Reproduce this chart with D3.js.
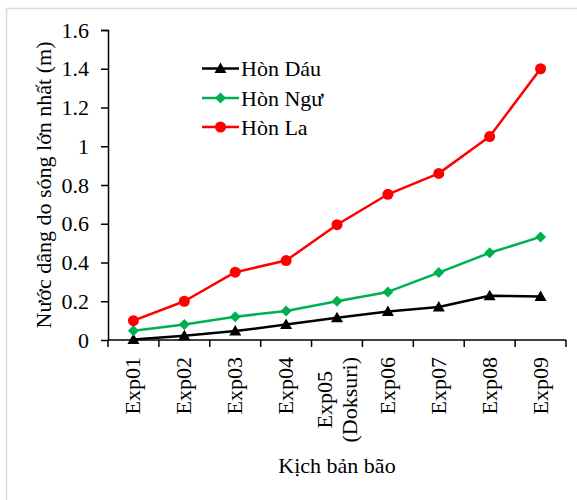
<!DOCTYPE html>
<html><head><meta charset="utf-8">
<script src="https://cdn.jsdelivr.net/npm/d3@7"></script>
<style>body{margin:0;background:#fff}svg{display:block}</style>
</head><body>
<script>
const categories = ["Exp01","Exp02","Exp03","Exp04","Exp05\n(Doksuri)","Exp06","Exp07","Exp08","Exp09"];
const honDau = [0.003,0.022,0.046,0.08,0.115,0.147,0.17,0.228,0.225];
const honNgu = [0.048,0.08,0.12,0.15,0.2,0.248,0.348,0.45,0.532];
const honLa  = [0.1,0.2,0.35,0.41,0.595,0.752,0.86,1.05,1.4];
const yTicks = [0,0.2,0.4,0.6,0.8,1,1.2,1.4,1.6];
const seriesNames = ["Hòn Dáu","Hòn Ngư","Hòn La"];
const colors = ["#000000","#00b050","#ff0000"];
const markers = ["triangle","diamond","circle"];
const yTitle = "Nước dâng do sóng lớn nhất (m)";
const xTitle = "Kịch bản bão";

const FONT='"Liberation Serif","Times New Roman",serif';
const W=577,H=500;
const svg=d3.select("body").append("svg").attr("width",W).attr("height",H)
  .style("font-family",FONT);
svg.append("rect").attr("x",6.5).attr("y",8.5).attr("width",700).attr("height",700)
  .attr("fill","none").attr("stroke","#d9d9d9").attr("stroke-width",1.5);

const x=d3.scaleBand().domain(categories).range([108,566]).padding(0);
const y=d3.scaleLinear().domain([0,1.6]).range([340,30]);
const fs=22;
function styleText(sel){ return sel.style("font-family",FONT).style("font-size",fs+"px").attr("fill","#000"); }

// y axis
const gy=svg.append("g").attr("transform","translate(108,0)")
  .call(d3.axisLeft(y).tickValues(yTicks).tickSize(7).tickPadding(12).tickFormat(d=>String(+d.toFixed(1))));
gy.attr("font-family",null).attr("font-size",null);
gy.select(".domain").attr("stroke","#000").attr("stroke-width",1.5).attr("d","M-7,30.5H0.5V340.5");
gy.selectAll(".tick line").attr("stroke","#000").attr("stroke-width",1.5);
styleText(gy.selectAll("text"));

// x axis
const gx=svg.append("g").attr("transform","translate(0,340)");
gx.append("line").attr("x1",108).attr("x2",566).attr("y1",0).attr("y2",0).attr("stroke","#000").attr("stroke-width",1.5);
const edges=categories.map(c=>x(c)).concat([x.range()[1]]);
gx.selectAll("line.t").data(edges).join("line").attr("class","t")
  .attr("x1",d=>d).attr("x2",d=>d).attr("y1",0).attr("y2",7).attr("stroke","#000").attr("stroke-width",1.5);
categories.forEach(c=>{
  const lines=c.split("\n");
  const cx=x(c)+x.bandwidth()/2;
  const n=lines.length, lh=25;
  const texts=[];
  lines.forEach((ln,i)=>{
    const off=(i-(n-1)/2)*lh;
    const tx=cx+off+7;
    const t=gx.append("text").attr("transform",`translate(${tx},17) rotate(-90)`)
      .attr("text-anchor","end").text(ln);
    styleText(t);
    texts.push(t);
  });
  if(n>1){
    const lens=texts.map(t=>t.node().getComputedTextLength());
    const maxL=d3.max(lens);
    texts.forEach((t,i)=>t.attr("x",-(maxL-lens[i])/2));
  }
});

// titles
styleText(svg.append("text").attr("transform","translate(51,185) rotate(-90)").attr("text-anchor","middle").text(yTitle));
styleText(svg.append("text").attr("x",337).attr("y",473).attr("text-anchor","middle").text(xTitle));

function markerPath(type){
  if(type==="triangle") return "M0,-6L6,4.5L-6,4.5Z";
  if(type==="diamond") return "M0,-5.5L5.5,0L0,5.5L-5.5,0Z";
  return d3.symbol(d3.symbolCircle,Math.PI*5.5*5.5)();
}
const allSeries=[honDau,honNgu,honLa];
const line=d3.line().x((d,i)=>x(categories[i])+x.bandwidth()/2).y(d=>y(d));
allSeries.forEach((vals,s)=>{
  svg.append("path").datum(vals).attr("d",line).attr("fill","none")
    .attr("stroke",colors[s]).attr("stroke-width",2.5).attr("stroke-linejoin","round");
  svg.selectAll(null).data(vals).join("path")
    .attr("transform",(d,i)=>`translate(${x(categories[i])+x.bandwidth()/2},${y(d)})`)
    .attr("d",markerPath(markers[s])).attr("fill",colors[s]);
});

// legend
const legY=[68.5,98,127];
seriesNames.forEach((nm,s)=>{
  const g=svg.append("g").attr("transform",`translate(0,${legY[s]})`);
  g.append("line").attr("x1",202).attr("x2",239).attr("stroke",colors[s]).attr("stroke-width",2.5);
  g.append("path").attr("transform","translate(220.5,0)").attr("d",markerPath(markers[s])).attr("fill",colors[s]);
  styleText(g.append("text").attr("x",241).attr("y",7.5).text(nm));
});
</script>
</body></html>
